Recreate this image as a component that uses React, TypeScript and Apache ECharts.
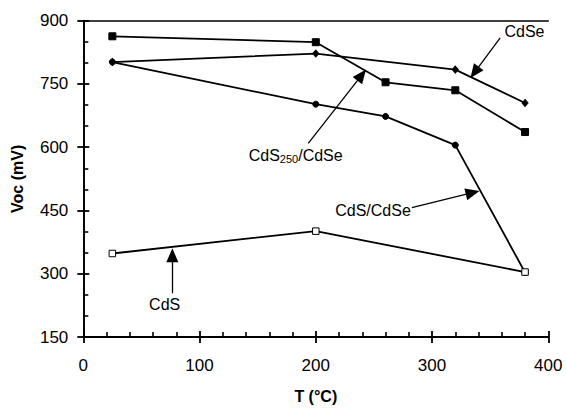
import React, { useEffect, useRef } from "react";
import * as echarts from "echarts";

const xTicks = { min: 0, max: 400, interval: 100 };
const yTicks = { min: 150, max: 900, interval: 150 };

const cds250CdSe: [number, number][] = [[25, 863], [200, 849], [260, 754], [320, 735], [380, 636]];
const cdSe: [number, number][] = [[25, 802], [200, 822], [320, 784], [380, 705]];
const cdsCdSe: [number, number][] = [[25, 802], [200, 702], [260, 673], [320, 605], [380, 303]];
const cdS: [number, number][] = [[25, 348], [200, 401], [380, 304]];

// annotation arrows (data coordinates): [from, to]
const arrows: [number, number][][] = [
  [[358.6, 859.4], [336.6, 777.4]],
  [[193.5, 609.3], [239.5, 771]],
  [[282.6, 457], [334.9, 492.2]],
  [[76.6, 253.8], [76.6, 343.8]],
];
const annotations: { name: string; coord: [number, number]; text: string }[] = [
  { name: "CdSe", coord: [379.5, 875], text: "CdSe" },
  { name: "CdS250/CdSe", coord: [182.7, 580], text: "{n|CdS}{s|250}{n|/CdSe}" },
  { name: "CdS/CdSe", coord: [249.2, 450], text: "CdS/CdSe" },
  { name: "CdS", coord: [70, 227.3], text: "CdS" },
];

const FONT = "'Liberation Sans', Arial, sans-serif";

export default function App() {
  const ref = useRef<HTMLDivElement>(null);
  useEffect(() => {
    if (!ref.current) return;
    const chart = echarts.init(ref.current, null, { renderer: "svg" });
    const lineStyle = { color: "#000", width: 1.8 };
    const tickStyle = { color: "#000", width: 1.8 };
    const minorStyle = { color: "#000", width: 1.6 };
    const base = {
      type: "line" as const,
      xAxisIndex: 0,
      yAxisIndex: 0,
      lineStyle,
      itemStyle: { color: "#000", borderColor: "#000" },
    };
    chart.setOption({
      animation: false,
      backgroundColor: "#fff",
      textStyle: { fontFamily: FONT },
      grid: { left: 83.3, right: 17.7, top: 20.7, bottom: 68 },
      xAxis: [
        {
          type: "value",
          position: "bottom",
          ...xTicks,
          name: "T (°C)",
          nameLocation: "middle",
          nameGap: 51,
          nameTextStyle: { fontSize: 16, fontWeight: "bold", color: "#000", fontFamily: FONT },
          axisLine: { show: true, lineStyle: { color: "#000", width: 1.8 } },
          axisTick: { show: true, inside: false, length: 6, lineStyle: tickStyle },
          axisLabel: { fontSize: 17, color: "#000", margin: 20, fontFamily: FONT },
          splitLine: { show: false },
        },
        {
          type: "value",
          position: "bottom",
          ...xTicks,
          axisLine: { show: false },
          axisTick: { show: true, inside: true, length: 6, lineStyle: tickStyle },
          minorTick: { show: true, splitNumber: 5, length: 5, lineStyle: minorStyle },
          axisLabel: { show: false },
          splitLine: { show: false },
        },
        {
          type: "value",
          position: "top",
          ...xTicks,
          axisLine: { show: true, lineStyle: { color: "#000", width: 1.5 } },
          axisTick: { show: false },
          axisLabel: { show: false },
          splitLine: { show: false },
        },
      ],
      yAxis: [
        {
          type: "value",
          position: "left",
          ...yTicks,
          name: "Voc (mV)",
          nameLocation: "middle",
          nameGap: 58,
          nameTextStyle: { fontSize: 16, fontWeight: "bold", color: "#000", fontFamily: FONT },
          axisLine: { show: true, lineStyle: { color: "#000", width: 1.8 } },
          axisTick: { show: true, inside: false, length: 6, lineStyle: tickStyle },
          axisLabel: { fontSize: 17, color: "#000", margin: 15, fontFamily: FONT },
          splitLine: { show: false },
        },
        {
          type: "value",
          position: "left",
          ...yTicks,
          axisLine: { show: false },
          axisTick: { show: true, inside: true, length: 6, lineStyle: tickStyle },
          minorTick: { show: true, splitNumber: 3, length: 5, lineStyle: minorStyle },
          axisLabel: { show: false },
          splitLine: { show: false },
        },
        {
          type: "value",
          position: "right",
          ...yTicks,
          axisLine: { show: true, lineStyle: { color: "#000", width: 1.5 } },
          axisTick: { show: false },
          axisLabel: { show: false },
          splitLine: { show: false },
        },
      ],
      series: [
        { ...base, name: "CdS250/CdSe", data: cds250CdSe, symbol: "rect", symbolSize: 7 },
        { ...base, name: "CdSe", data: cdSe, symbol: "diamond", symbolSize: [6, 7] },
        { ...base, name: "CdS/CdSe", data: cdsCdSe, symbol: "circle", symbolSize: 6 },
        {
          ...base,
          name: "CdS",
          data: cdS,
          symbol: "rect",
          symbolSize: 6.5,
          itemStyle: { color: "#fff", borderColor: "#000", borderWidth: 1 },
        },
        {
          type: "line",
          name: "annotations",
          xAxisIndex: 0,
          yAxisIndex: 0,
          data: [],
          markLine: {
            silent: true,
            animation: false,
            symbol: ["none", "triangle"],
            symbolSize: [12, 14],
            lineStyle: { color: "#000", width: 1.3, type: "solid" },
            itemStyle: { color: "#000" },
            label: { show: false },
            data: arrows.map((a) => [
              { coord: a[0], symbol: "none" },
              { coord: a[1], symbol: "triangle" },
            ]),
          },
          markPoint: {
            silent: true,
            animation: false,
            symbol: "circle",
            symbolSize: 0,
            label: {
              show: true,
              position: "inside",
              color: "#000",
              fontSize: 16,
              fontFamily: FONT,
              formatter: (p: any) => p.data.text,
              rich: {
                n: { fontSize: 16, fontFamily: FONT, color: "#000" },
                s: { fontSize: 11, fontFamily: FONT, color: "#000", verticalAlign: "bottom", padding: [6, 0, 0, 0] },
              },
            },
            data: annotations.map((a) => ({ name: a.name, coord: a.coord, text: a.text })),
          },
        },
      ],
    });
    return () => chart.dispose();
  }, []);
  return <div ref={ref} style={{ width: 566, height: 409, position: "absolute", left: 0, top: 0 }} />;
}
